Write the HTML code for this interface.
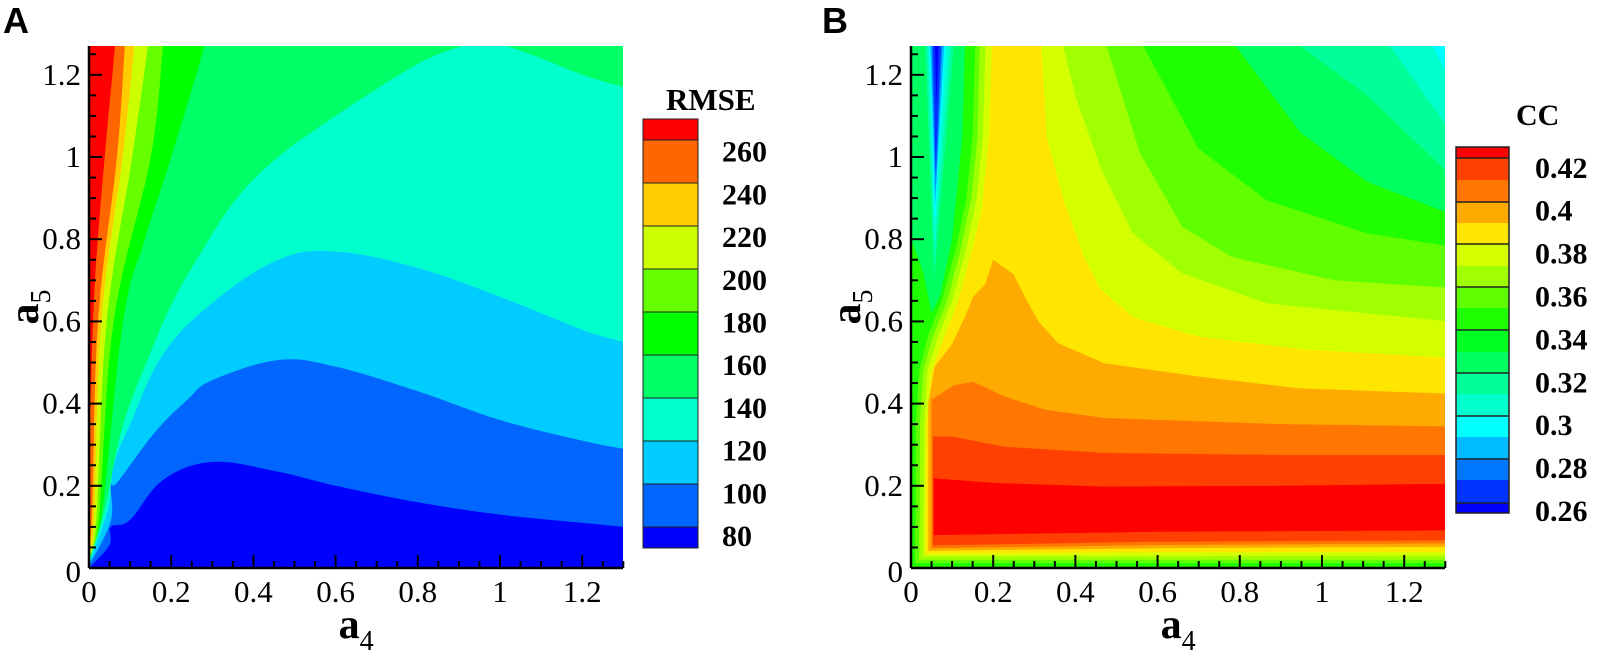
<!DOCTYPE html>
<html><head><meta charset="utf-8"><style>
html,body{margin:0;padding:0;background:#fff;}
svg{display:block;}
text{font-family:"Liberation Serif","Times New Roman",serif;fill:#000;}
</style></head><body>
<svg id="fig" width="1600" height="655" viewBox="0 0 1600 655" xmlns="http://www.w3.org/2000/svg" font-family="Liberation Serif, serif">
<defs>
<clipPath id="clipA"><rect x="89" y="46" width="534" height="522"/></clipPath>
<clipPath id="clipB"><rect x="911" y="46" width="534" height="522"/></clipPath>
</defs>
<g id="plotA" clip-path="url(#clipA)"></g>
<g id="plotB" clip-path="url(#clipB)"></g>
<g id="axes"></g>
<g id="cbars"></g>
<text x="3" y="33" font-family="Liberation Sans, sans-serif" style="font-family:'Liberation Sans',sans-serif;font-weight:bold;font-size:36px">A</text>
<text x="822" y="33" font-family="Liberation Sans, sans-serif" style="font-family:'Liberation Sans',sans-serif;font-weight:bold;font-size:36px">B</text>
<text x="666" y="110" font-family="Liberation Serif, serif" style="font-weight:bold;font-size:31px">RMSE</text>
<text x="1516" y="125" font-family="Liberation Serif, serif" style="font-weight:bold;font-size:30px">CC</text>
</svg>
<script>
// ---------- Panel A data (RMSE contour boundaries, [a4, a5]) ----------
const rmseLevels = [270, 250, 230, 210, 190, 170, 150, 130, 110, 90];
const rmseTopColor = "#ff0000";
const rmseBandColors = ["#ff6600","#ffcc00","#ccff00","#66ff00","#00ff00","#00ff66","#00ffcc","#00ccff","#0066ff","#0000ff"];
const c270 = [[0,0.28],[0.01,0.6],[0.02,0.78],[0.04,1.02],[0.063,1.27],[0.07,1.4]];
const c250 = [[0,0.05],[0.008,0.15],[0.022,0.6],[0.068,1.0],[0.087,1.27],[0.095,1.4]];
const c230 = [[0,0.035],[0.012,0.12],[0.03,0.6],[0.082,1.0],[0.11,1.27],[0.12,1.4]];
const c210 = [[0,0.03],[0.018,0.12],[0.043,0.6],[0.105,1.0],[0.143,1.27],[0.155,1.4]];
const c190 = [[0,0.025],[0.024,0.12],[0.06,0.6],[0.15,1.0],[0.18,1.27],[0.19,1.4]];
const c170 = [[0,0.02],[0.03,0.12],[0.083,0.6],[0.136,0.8],[0.2,1.0],[0.28,1.27],[0.3,1.4]];
const c150 = [[0,0.015],[0.04,0.15],[0.07,0.3],[0.1,0.4],[0.14,0.5],[0.2,0.64],[0.28,0.78],[0.36,0.9],[0.46,1.0],[0.6,1.1],[0.755,1.2],[0.85,1.25],[0.95,1.28],[1.0,1.275],[1.1,1.24],[1.2,1.2],[1.3,1.17]];
const c130 = [[0,0.01],[0.048,0.15],[0.06,0.25],[0.1,0.35],[0.18,0.52],[0.3,0.645],[0.46,0.75],[0.6,0.77],[0.8,0.73],[1.0,0.66],[1.2,0.58],[1.3,0.55]];
const c110 = [[0,0.005],[0.053,0.115],[0.053,0.2],[0.07,0.21],[0.16,0.33],[0.24,0.41],[0.3,0.457],[0.46,0.506],[0.6,0.49],[0.8,0.43],[1.0,0.36],[1.2,0.31],[1.3,0.29]];
const c90 = [[0,0],[0.05,0.056],[0.053,0.1],[0.1,0.117],[0.18,0.214],[0.3,0.258],[0.46,0.234],[0.6,0.2],[0.8,0.16],[1.0,0.13],[1.2,0.11],[1.3,0.1]];
const rmseContours = [c270,c250,c230,c210,c190,c170,c150,c130,c110,c90];
const rmseTicks = ["80","100","120","140","160","180","200","220","240","260"];

// ---------- Panel B data (CC level regions, [a4, a5]) ----------
const ccPalette = ["#0000ff","#0033ff","#0077ff","#00bbff","#00ffff","#00ffcc","#00ff99","#00ff60","#00ff20","#20ff00","#5fff00","#a0ff00","#d4ff00","#ffe600","#ffaa00","#ff7700","#ff4000","#ff0000"];
const ccBackgroundLevel = 4;
const ccHighLevels = [5,6,7,9,10,11,12,13,14,15,16,17];
const r5 = [[-0.1,-0.1],[-0.1,1.4],[1.2,1.4],[1.3,1.21],[1.4,1.21],[1.4,-0.1]];
const r6 = [[-0.1,-0.1],[-0.1,1.4],[1.12,1.4],[1.165,1.27],[1.3,1.08],[1.4,1.08],[1.4,-0.1]];
const r7 = [[-0.1,-0.1],[-0.1,1.4],[0.9,1.4],[0.947,1.27],[1.11,1.15],[1.3,0.968],[1.4,0.968],[1.4,-0.1]];
const r9 = [[-0.1,-0.1],[-0.1,1.4],[0.75,1.4],[0.79,1.27],[0.947,1.06],[1.11,0.94],[1.3,0.866],[1.4,0.866],[1.4,-0.1]];
const r10 = [[0.01,0.012],[0.012,0.35],[0.02,0.48],[0.04,0.56],[0.075,0.65],[0.11,0.78],[0.135,0.9],[0.15,1.05],[0.16,1.4],[0.55,1.4],[0.565,1.27],[0.7,1.02],[0.865,0.895],[1.11,0.814],[1.4,0.769],[1.4,0.012]];
const r11 = [[0.02,0.02],[0.022,0.35],[0.03,0.48],[0.052,0.56],[0.088,0.65],[0.122,0.78],[0.147,0.9],[0.162,1.05],[0.17,1.4],[0.46,1.4],[0.476,1.27],[0.557,1.01],[0.66,0.83],[0.78,0.757],[1.03,0.7],[1.4,0.676],[1.4,0.02]];
const r12 = [[0.03,0.028],[0.032,0.35],[0.04,0.48],[0.065,0.56],[0.1,0.65],[0.135,0.78],[0.16,0.9],[0.175,1.05],[0.185,1.4],[0.36,1.4],[0.37,1.27],[0.4,1.15],[0.46,0.976],[0.54,0.814],[0.66,0.717],[0.865,0.644],[1.4,0.591],[1.4,0.03]];
const r13 = [[0.035,0.035],[0.038,0.35],[0.05,0.48],[0.08,0.56],[0.115,0.65],[0.15,0.78],[0.172,0.87],[0.19,1.05],[0.2,1.4],[0.31,1.4],[0.33,1.05],[0.37,0.9],[0.42,0.76],[0.46,0.68],[0.54,0.61],[0.7,0.563],[0.95,0.532],[1.4,0.506],[1.4,0.04],[0.6,0.038]];
const r14 = [[0.042,0.042],[0.042,0.4],[0.058,0.49],[0.1,0.545],[0.131,0.61],[0.151,0.66],[0.18,0.69],[0.2,0.75],[0.249,0.715],[0.277,0.66],[0.31,0.6],[0.358,0.547],[0.47,0.498],[0.7,0.466],[0.946,0.437],[1.4,0.421],[1.4,0.052],[0.6,0.048]];
const r15 = [[0.05,0.048],[0.05,0.41],[0.105,0.445],[0.152,0.453],[0.228,0.417],[0.326,0.385],[0.47,0.365],[0.9,0.35],[1.4,0.343],[1.4,0.06],[0.6,0.056]];
const r16 = [[0.053,0.055],[0.053,0.32],[0.1,0.32],[0.228,0.295],[0.47,0.28],[0.9,0.275],[1.4,0.275],[1.4,0.068],[0.6,0.064]];
const r17 = [[0.055,0.08],[0.055,0.218],[0.2,0.207],[0.47,0.198],[0.9,0.2],[1.4,0.206],[1.4,0.092],[0.6,0.088]];
const ccHighRegions = [r5,r6,r7,r9,r10,r11,r12,r13,r14,r15,r16,r17];
// low-value spike regions near a4≈0.06 (painted with level index)
const ccLowLevels = [7,6,5,4,3,2,1,0];
const s7 = [[-0.1,1.4],[-0.1,0.8],[0,0.8],[0.03,0.72],[0.05,0.62],[0.07,0.66],[0.1,0.8],[0.125,1.05],[0.135,1.4]];
const s6 = [[0.03,1.4],[0.056,0.7],[0.115,1.4]];
const s5 = [[0.035,1.4],[0.057,0.76],[0.105,1.4]];
const s4 = [[0.04,1.4],[0.058,0.83],[0.095,1.4]];
const s3 = [[0.043,1.4],[0.059,0.88],[0.088,1.4]];
const s2 = [[0.046,1.4],[0.06,0.92],[0.082,1.4]];
const s1 = [[0.05,1.4],[0.06,0.96],[0.078,1.4]];
const s0 = [[0.055,1.4],[0.062,1.12],[0.07,1.4]];
const ccLowRegions = [s7,s6,s5,s4,s3,s2,s1,s0];
const ccTicks = ["0.26","0.28","0.3","0.32","0.34","0.36","0.38","0.4","0.42"];

// ---------- axis data ----------
const xTickLabels = ["0","0.2","0.4","0.6","0.8","1","1.2"];
const yTickLabels = ["0.2","0.4","0.6","0.8","1","1.2"];

const NS = "http://www.w3.org/2000/svg";
const S = 411, Y0 = 568, AX = 89, BX = 911;
const SERIF = "Liberation Serif, Times New Roman, serif";
function xA(v){return AX + v*S;}
function xB(v){return BX + v*S;}
function yv(v){return Y0 - v*S;}
function mk(tag, attrs, parent){
  const e = document.createElementNS(NS, tag);
  for (const k in attrs) e.setAttribute(k, attrs[k]);
  parent.appendChild(e);
  return e;
}
function ptsStr(pts, xf){return pts.map(p => xf(p[0]).toFixed(1)+","+yv(p[1]).toFixed(1)).join(" ");}
// smooth Catmull-Rom path through screen points
function smoothPath(P){
  let d = "M" + P[0][0].toFixed(1) + "," + P[0][1].toFixed(1);
  for (let i = 0; i < P.length-1; i++) {
    const p0 = P[Math.max(0,i-1)], p1 = P[i], p2 = P[i+1], p3 = P[Math.min(P.length-1,i+2)];
    const t = 0.18;
    const c1 = [p1[0]+(p2[0]-p0[0])*t, p1[1]+(p2[1]-p0[1])*t];
    const c2 = [p2[0]-(p3[0]-p1[0])*t, p2[1]-(p3[1]-p1[1])*t];
    d += " C" + c1[0].toFixed(1)+","+c1[1].toFixed(1)+" "+c2[0].toFixed(1)+","+c2[1].toFixed(1)+" "+p2[0].toFixed(1)+","+p2[1].toFixed(1);
  }
  return d;
}

// Panel A
const gA = document.getElementById("plotA");
const bgA = mk("rect", {x:AX, y:46, width:534, height:522, fill:rmseTopColor}, gA);


rmseContours.forEach((c, i) => {
  const scr = c.map(p => [xA(p[0]), yv(p[1])]);
  const last = c[c.length-1];
  let d = smoothPath(scr);
  d += " L" + xA(1.45) + "," + yv(last[1]) + " L" + xA(1.45) + "," + yv(-0.1) + " L" + xA(c[0][0]) + "," + yv(-0.1) + " Z";
  const p = mk("path", {d: d, fill: rmseBandColors[i]}, gA);
  
  
});

// Panel B
const gB = document.getElementById("plotB");
const bgB = mk("rect", {x:BX, y:46, width:534, height:522, fill:ccPalette[ccBackgroundLevel]}, gB);


ccHighRegions.forEach((r, i) => {
  const p = mk("polygon", {points: ptsStr(r, xB), fill: ccPalette[ccHighLevels[i]], "stroke-linejoin":"round"}, gB);
  
  
});
ccLowRegions.forEach((r, i) => {
  const p = mk("polygon", {points: ptsStr(r, xB), fill: ccPalette[ccLowLevels[i]]}, gB);
  
  
});

// Axes
const gAx = document.getElementById("axes");
[[AX, xA, "a"], [BX, xB, "b"]].forEach(([x0, xf, id]) => {
  const xl = mk("line", {x1:x0, y1:Y0, x2:x0+534, y2:Y0, stroke:"#000", "stroke-width":2.5}, gAx);
  
  
  const yl = mk("line", {x1:x0, y1:46, x2:x0, y2:Y0, stroke:"#000", "stroke-width":2.5}, gAx);
  
  
  for (let i = 0; i <= 26; i++) {
    const v = i*0.05, len = (i%4===0) ? 13 : 7;
    const t = mk("line", {x1:xf(v), y1:Y0, x2:xf(v), y2:Y0-len, stroke:"#000", "stroke-width":2}, gAx);
    
    
  }
  for (let i = 1; i <= 25; i++) {
    const v = i*0.05, len = (i%4===0) ? 13 : 7;
    const t = mk("line", {x1:x0, y1:yv(v), x2:x0+len, y2:yv(v), stroke:"#000", "stroke-width":2}, gAx);
    
    
  }
  xTickLabels.forEach((lab, i) => {
    const t = mk("text", {x:xf(i*0.2), y:602, "text-anchor":"middle", "font-size":31, "font-family":SERIF}, gAx);
    t.textContent = lab;
    
    
  });
  yTickLabels.forEach((lab, i) => {
    const t = mk("text", {x:x0-8, y:yv((i+1)*0.2)+10, "text-anchor":"end", "font-size":31, "font-family":SERIF}, gAx);
    t.textContent = lab;
    
    
  });
  const z = mk("text", {x:x0-8, y:582, "text-anchor":"end", "font-size":31, "font-family":SERIF}, gAx);
  z.textContent = "0";
  
  
  const xt = mk("text", {x:xf(0.65), y:638, "text-anchor":"middle", "font-size":42, "font-weight":"bold", "font-family":SERIF}, gAx);
  xt.innerHTML = 'a<tspan font-size="28" font-weight="normal" dy="12">4</tspan>';
  
  
  const cx = x0 - 51, cy = 307;
  const yt = mk("text", {x:cx, y:cy, "text-anchor":"middle", "font-size":42, "font-weight":"bold", "font-family":SERIF, transform:"rotate(-90 "+cx+" "+cy+")"}, gAx);
  yt.innerHTML = 'a<tspan font-size="28" font-weight="normal" dy="12">5</tspan>';
  
  
});

// Colorbars
const gC = document.getElementById("cbars");
const cbAEdges = [119,140,183,226,269,312,355,398,441,484,527,548];
const cbAColors = [rmseTopColor].concat(rmseBandColors);
for (let i = 0; i < cbAColors.length; i++) {
  const r = mk("rect", {x:643, y:cbAEdges[i], width:55, height:cbAEdges[i+1]-cbAEdges[i], fill:cbAColors[i], stroke:"#222", "stroke-width":1}, gC);
  
  
}
rmseTicks.forEach((lab, i) => {
  const t = mk("text", {x:722, y:535 - i*42.7 + 11, "font-size":30, "font-weight":"bold", "font-family":SERIF}, gC);
  t.textContent = lab;
  
  
});
const cbBEdges = [147,158,180,202,223,244,266,287,308,330,352,373,394,416,437,459,480,503,513];
for (let i = 0; i < 18; i++) {
  const r = mk("rect", {x:1456, y:cbBEdges[i], width:53, height:cbBEdges[i+1]-cbBEdges[i], fill:ccPalette[17-i]}, gC);
  
  
}
for (let i = 1; i < 18; i += 2) {
  const l = mk("line", {x1:1456, y1:cbBEdges[i], x2:1509, y2:cbBEdges[i], stroke:"#222", "stroke-width":1.5}, gC);
  
  
}
const ob = mk("rect", {x:1456, y:147, width:53, height:366, fill:"none", stroke:"#222", "stroke-width":1.5}, gC);


ccTicks.forEach((lab, i) => {
  const t = mk("text", {x:1535, y:510 - i*42.9 + 11, "font-size":30, "font-weight":"bold", "font-family":SERIF}, gC);
  t.textContent = lab;
  
  
});
</script>
</body></html>
